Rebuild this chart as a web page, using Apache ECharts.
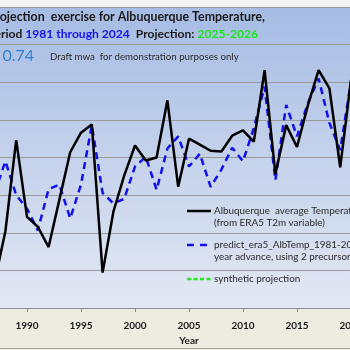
<!DOCTYPE html>
<html>
<head>
<meta charset="utf-8">
<script src="https://cdn.jsdelivr.net/npm/echarts@6/dist/echarts.min.js"></script>
<style>
  html, body { margin: 0; padding: 0; background: #f3f3f3; }
  #chartcontainer { width: 350px; height: 350px; }
</style>
</head>
<body>
<div id="chartcontainer"></div>
<script>
  // values (only 1987-2020 is visible)
  const years = [1987, 1988, 1989, 1990, 1991, 1992, 1993, 1994, 1995, 1996,
    1997, 1998, 1999, 2000, 2001, 2002, 2003, 2004, 2005, 2006,
    2007, 2008, 2009, 2010, 2011, 2012, 2013, 2014, 2015, 2016,
    2017, 2018, 2019, 2020]
  const observed = [12.85, 13.52, 14.73, 13.71, 13.58, 13.31, 13.94, 14.57, 14.83, 14.94,
    12.97, 13.78, 14.26, 14.66, 14.46, 14.50, 15.26, 14.11, 14.75, 14.67,
    14.59, 14.58, 14.79, 14.86, 14.71, 15.66, 14.28, 14.93, 14.64, 15.19,
    15.66, 15.42, 14.37, 15.53]
  const predicted = [14.03, 14.45, 14.00, 13.82, 13.53, 14.08, 14.14, 13.69, 14.14, 14.93,
    14.03, 13.89, 13.95, 14.38, 14.51, 14.07, 14.62, 14.78, 14.38, 14.55,
    14.11, 14.34, 14.63, 14.45, 14.89, 15.44, 14.20, 15.20, 14.78, 15.22,
    15.55, 14.96, 14.60, 15.51]
  // the 2025-2026 projection lies outside the cropped picture
  const projection = []

  const legendNames = [
    'Albuquerque  average Temperature\n(from ERA5 T2m variable)',
    'predict_era5_AlbTemp_1981-2024, 1\nyear advance, using 2 precursors',
    'synthetic projection'
  ]

  const font = 'Lato, "Open Sans", sans-serif'
  const chart = echarts.init(document.getElementById('chartcontainer'))

  const legendRow = (y, color, dash, name) => [
    {
      type: 'line',
      shape: { x1: 187, y1: y, x2: 211, y2: y },
      style: { stroke: color, lineWidth: 2.5, lineDash: dash },
      z: 10
    },
    {
      type: 'text',
      x: 214,
      y: y - 6,
      style: { text: name, fill: '#2a2a2a', font: '9.9px ' + font, lineHeight: 12 },
      z: 10
    }
  ]

  chart.setOption({
    animation: false,
    textStyle: { fontFamily: font },
    grid: {
      left: -81,
      width: 540,
      top: 7,
      bottom: 42,
      outerBoundsMode: 'none',
      containLabel: false
    },
    xAxis: {
      type: 'value',
      min: 1980,
      max: 2030,
      interval: 5,
      name: 'Year',
      nameLocation: 'middle',
      nameGap: 28,
      nameTextStyle: { fontWeight: 'bold', fontSize: 10, color: '#1a1a1a' },
      axisLine: { lineStyle: { color: '#8e8e8e' } },
      axisTick: { show: true, length: 4, lineStyle: { color: '#8e8e8e' } },
      axisLabel: { fontWeight: 'bold', fontSize: 10, color: '#1a1a1a', margin: 13, formatter: v => String(v) },
      splitLine: { show: false }
    },
    yAxis: {
      type: 'value',
      min: 12.5,
      max: 16.5,
      interval: 0.5,
      axisLine: { show: false },
      axisTick: { show: false },
      axisLabel: { show: false },
      splitLine: { lineStyle: { color: '#9a9a9a', width: 1 } }
    },
    graphic: [
      { type: 'rect', shape: { x: 0, y: 0, width: 350, height: 7 }, style: { fill: '#f3f3f3' }, z: -20 },
      {
        type: 'rect',
        shape: { x: 0, y: 7, width: 350, height: 301 },
        style: {
          fill: new echarts.graphic.LinearGradient(0, 0, 0, 1, [
            { offset: 0, color: '#a6bce4' },
            { offset: 1, color: '#e3e8f4' }
          ])
        },
        z: -20
      },
      { type: 'rect', shape: { x: 0, y: 308, width: 350, height: 42 }, style: { fill: '#eeebe1' }, z: -20 },
      { type: 'line', shape: { x1: 0, y1: 348.5, x2: 350, y2: 348.5 }, style: { stroke: '#a8a8a8', lineWidth: 1 }, z: -19 },
      {
        type: 'text',
        x: 265,
        y: 17,
        style: {
          text: 'Projection  exercise for Albuquerque Temperature,',
          align: 'right',
          verticalAlign: 'middle',
          fill: '#1a1a1a',
          font: 'bold 12.4px ' + font
        },
        z: 10
      },
      {
        type: 'text',
        x: 258,
        y: 34,
        style: {
          text: '{a|Period }{b|1981 through 2024}{a|  Projection: }{c|2025-2026}',
          align: 'right',
          verticalAlign: 'middle',
          rich: {
            a: { fill: '#1a1a1a', font: 'bold 12.1px ' + font },
            b: { fill: '#1414f0', font: 'bold 12.1px ' + font },
            c: { fill: '#1de61d', font: 'bold 12.1px ' + font }
          }
        },
        z: 10
      },
      {
        type: 'text',
        x: 34,
        y: 56,
        style: { text: 'r = 0.74', align: 'right', verticalAlign: 'middle', fill: '#2f80d4', font: '16px ' + font },
        z: 10
      },
      {
        type: 'text',
        x: 50,
        y: 57,
        style: { text: 'Draft mwa  for demonstration purposes only', verticalAlign: 'middle', fill: '#2a2a2a', font: '9.7px ' + font },
        z: 10
      },
      ...legendRow(211, '#000000', null, legendNames[0]),
      ...legendRow(245, '#1010f0', [7, 6], legendNames[1]),
      ...legendRow(279, '#22e822', [4, 2.5], legendNames[2])
    ],
    series: [
      {
        name: legendNames[0],
        type: 'line',
        symbol: 'none',
        data: years.map((y, i) => [y, observed[i]]),
        lineStyle: { color: '#000000', width: 2.5 },
        z: 3
      },
      {
        name: legendNames[1],
        type: 'line',
        symbol: 'none',
        data: years.map((y, i) => [y, predicted[i]]),
        lineStyle: { color: '#1010f0', width: 2.5, type: [7, 5] },
        z: 2
      },
      {
        name: legendNames[2],
        type: 'line',
        symbol: 'none',
        data: projection,
        lineStyle: { color: '#22e822', width: 2, type: [4, 2.5] }
      }
    ]
  })
</script>
</body>
</html>
